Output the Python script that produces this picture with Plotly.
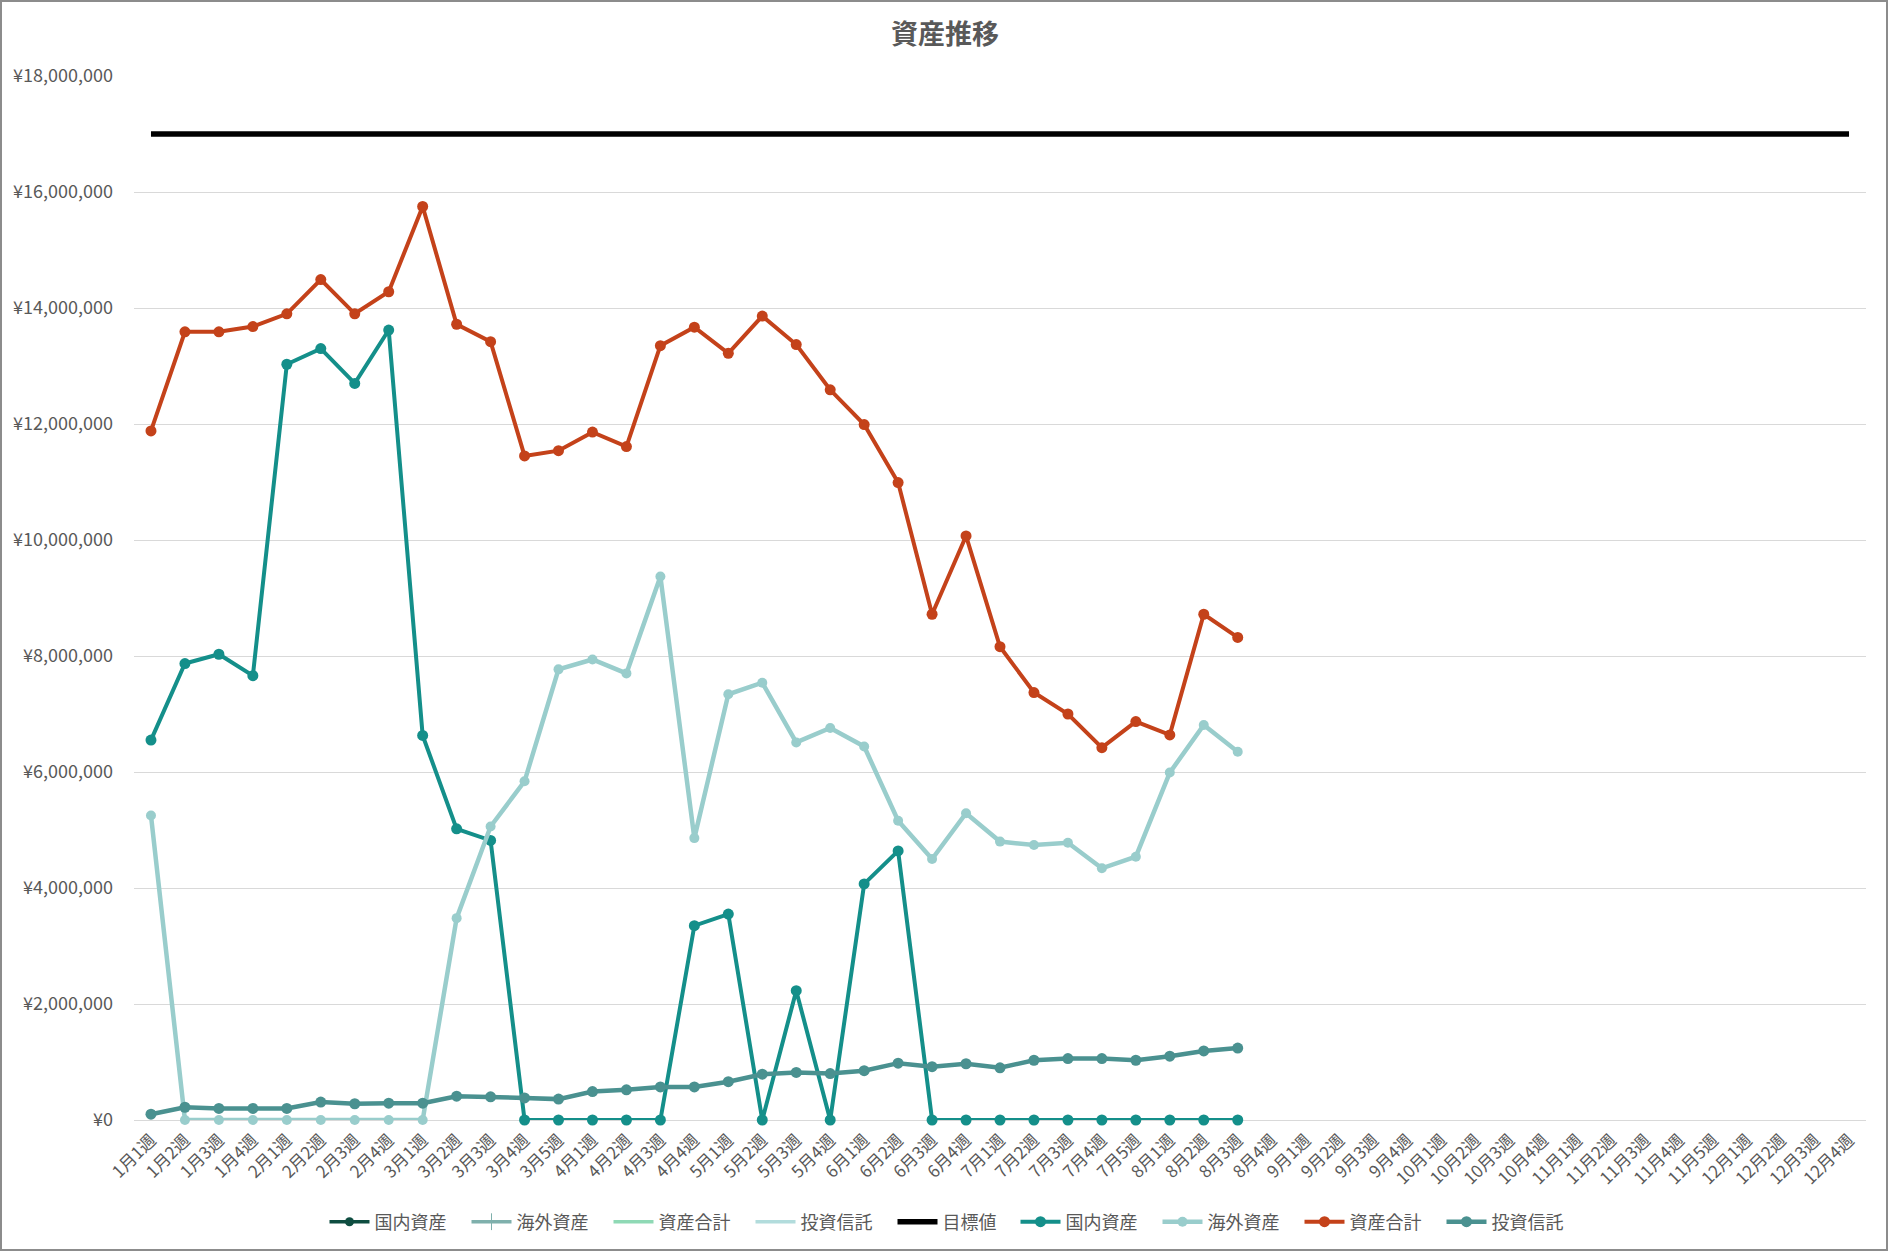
import plotly.graph_objects as go

categories = [
    "1月1週", "1月2週", "1月3週", "1月4週",
    "2月1週", "2月2週", "2月3週", "2月4週",
    "3月1週", "3月2週", "3月3週", "3月4週", "3月5週",
    "4月1週", "4月2週", "4月3週", "4月4週",
    "5月1週", "5月2週", "5月3週", "5月4週",
    "6月1週", "6月2週", "6月3週", "6月4週",
    "7月1週", "7月2週", "7月3週", "7月4週", "7月5週",
    "8月1週", "8月2週", "8月3週", "8月4週",
    "9月1週", "9月2週", "9月3週", "9月4週",
    "10月1週", "10月2週", "10月3週", "10月4週",
    "11月1週", "11月2週", "11月3週", "11月4週", "11月5週",
    "12月1週", "12月2週", "12月3週", "12月4週",
]

# values in yen (first 33 weeks have data)
domestic = [6550000, 7870000, 8030000, 7660000, 13030000, 13300000, 12700000, 13620000,
            6630000, 5020000, 4820000, 0, 0, 0, 0, 0, 3350000,
            3550000, 0, 2230000, 0, 4070000, 4640000, 0, 0,
            0, 0, 0, 0, 0, 0, 0, 0]
foreign = [5250000, 0, 0, 0, 0, 0, 0, 0,
           0, 3480000, 5060000, 5840000, 7770000, 7940000, 7700000, 9370000, 4860000,
           7340000, 7540000, 6510000, 6760000, 6440000, 5160000, 4500000, 5290000,
           4800000, 4740000, 4780000, 4340000, 4540000, 5990000, 6810000, 6350000]
total = [11880000, 13590000, 13590000, 13680000, 13900000, 14490000, 13900000, 14280000,
         15750000, 13720000, 13420000, 11450000, 11540000, 11860000, 11610000, 13350000, 13670000,
         13220000, 13860000, 13370000, 12590000, 11990000, 10990000, 8720000, 10070000,
         8160000, 7370000, 7000000, 6420000, 6870000, 6640000, 8720000, 8320000]
funds = [100000, 220000, 200000, 200000, 200000, 310000, 280000, 290000,
         290000, 410000, 400000, 380000, 360000, 490000, 520000, 570000, 570000,
         660000, 790000, 820000, 800000, 850000, 980000, 920000, 970000,
         900000, 1030000, 1060000, 1060000, 1030000, 1100000, 1190000, 1240000]
target = [17000000] * len(categories)

FONT = "Noto Sans CJK JP"
TXT = "#595959"

fig = go.Figure()
empty = [None] * len(categories)
LW4 = 87   # legend text slot for 4-char names
LW3 = 68   # legend text slot for 3-char names

# legend-only (empty) series
fig.add_trace(go.Scatter(x=categories, y=empty, name="国内資産", mode="lines+markers", legendwidth=LW4,
                         line=dict(color="#0E4D40", width=3.5), marker=dict(size=9, color="#0E4D40")))
fig.add_trace(go.Scatter(x=categories, y=empty, name="海外資産", mode="lines+markers", legendwidth=LW4,
                         line=dict(color="#7FB0AC", width=3.5),
                         marker=dict(size=12, symbol="line-ns", line=dict(width=1, color="#7FB0AC"))))
fig.add_trace(go.Scatter(x=categories, y=empty, name="資産合計", mode="lines", legendwidth=LW4,
                         line=dict(color="#8FD9B5", width=3.5)))
fig.add_trace(go.Scatter(x=categories, y=empty, name="投資信託", mode="lines", legendwidth=LW4,
                         line=dict(color="#B2DCDC", width=3.5)))

fig.add_trace(go.Scatter(x=categories, y=target, name="目標値", mode="lines", legendwidth=LW3,
                         line=dict(color="#000000", width=5.5)))
fig.add_trace(go.Scatter(x=categories[:len(domestic)], y=domestic, name="国内資産", mode="lines+markers",
                         legendwidth=LW4,
                         line=dict(color="#148F8A", width=4), marker=dict(size=11, color="#148F8A"),
                         cliponaxis=False))
fig.add_trace(go.Scatter(x=categories[:len(foreign)], y=foreign, name="海外資産", mode="lines+markers",
                         legendwidth=LW4,
                         line=dict(color="#99CDCC", width=4.5), marker=dict(size=10, color="#99CDCC"),
                         cliponaxis=False))
fig.add_trace(go.Scatter(x=categories[:len(total)], y=total, name="資産合計", mode="lines+markers",
                         legendwidth=LW4,
                         line=dict(color="#C4421A", width=4), marker=dict(size=11, color="#C4421A"),
                         cliponaxis=False))
fig.add_trace(go.Scatter(x=categories[:len(funds)], y=funds, name="投資信託", mode="lines+markers",
                         legendwidth=LW4,
                         line=dict(color="#4A9190", width=4.5), marker=dict(size=11, color="#4A9190"),
                         cliponaxis=False))

L, R, T, B = 134, 24, 76, 132
W, H = 1890, 1252
pw, ph = W - L - R, H - T - B

fig.update_layout(
    width=W, height=H,
    margin=dict(l=L, r=R, t=T, b=B, pad=0, autoexpand=False),
    paper_bgcolor="white", plot_bgcolor="white",
    font=dict(family=FONT, color=TXT, size=18),
    title=dict(text="<b>資産推移</b>", x=0.5, xanchor="center", xref="container",
               y=1 - 35 / H, yanchor="middle", yref="container",
               font=dict(size=27, color=TXT, family=FONT)),
    showlegend=True,
    legend=dict(orientation="h", x=(954 - L) / pw, xanchor="center", y=(T + ph - 1222) / ph,
                yanchor="middle", itemwidth=40,
                font=dict(size=18, color=TXT, family=FONT), bgcolor="rgba(0,0,0,0)",
                traceorder="normal"),
    xaxis=dict(type="category", range=[-0.5, len(categories) - 0.5], showgrid=False,
               showline=False, zeroline=False, tickangle=-45, ticks="",
               tickfont=dict(size=17, color=TXT, family=FONT), ticklabelstandoff=6),
    yaxis=dict(range=[0, 18000000], dtick=2000000, tick0=0, showgrid=True, gridcolor="#D9D9D9",
               gridwidth=1.3, zeroline=True, zerolinecolor="#D9D9D9", zerolinewidth=1.3,
               showline=False, tickprefix="¥", tickformat=",d", ticks="",
               tickfont=dict(size=18, color=TXT, family=FONT), ticklabelstandoff=20),
    shapes=[dict(type="rect", xref="paper", yref="paper",
                 x0=(1 - L) / pw, x1=(W - 3 - L) / pw,
                 y0=(T + ph - (H - 2)) / ph, y1=(T + ph - 1) / ph,
                 line=dict(color="#8C8C8C", width=2), fillcolor="rgba(0,0,0,0)", layer="above")],
)

fig.write_html("out.html", config={"displayModeBar": False},
               post_script="document.body.style.margin='0';document.body.style.overflow='hidden';")
